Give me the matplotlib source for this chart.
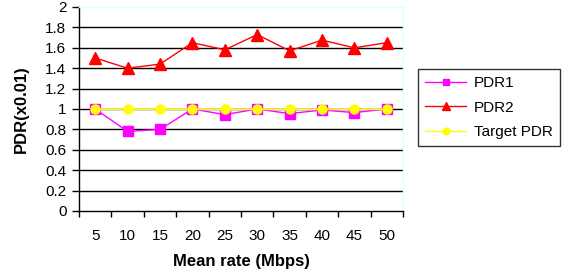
import numpy as np
import matplotlib.pyplot as plt

plt.rcParams['font.family'] = ['Liberation Sans', 'DejaVu Sans']

# data
rates = ['5', '10', '15', '20', '25', '30', '35', '40', '45', '50']
pdr1 = [1.0, 0.78, 0.80, 1.0, 0.945, 1.0, 0.955, 0.99, 0.965, 1.0]
pdr2 = [1.50, 1.40, 1.44, 1.65, 1.58, 1.73, 1.57, 1.675, 1.60, 1.65]
target = [1.0] * 10

fig = plt.figure(figsize=(5.69, 2.76), dpi=100)
ax = fig.add_axes([79 / 569, 1 - 211 / 276, 324 / 569, 204 / 276])

x = np.arange(len(rates))
ax.plot(x, pdr1, color='#FF00FF', marker='s', ms=6.5, lw=1, label='PDR1', zorder=3)
ax.plot(x, target, color='#FFFF00', marker='o', ms=6.5, lw=1, label='Target PDR', zorder=4)
ax.plot(x, pdr2, color='#FF0000', marker='^', ms=8, lw=1, label='PDR2', zorder=5)

ax.set_xlim(-0.5, 9.5)
ax.set_ylim(0, 2)
ax.set_yticks(np.arange(0, 2.01, 0.2))
ax.set_yticklabels(['0', '0.2', '0.4', '0.6', '0.8', '1', '1.2', '1.4', '1.6', '1.8', '2'])
for v in np.arange(0.2, 1.81, 0.2):
    ax.axhline(v, color='black', lw=1, zorder=1)

ax.set_xticks(x)
ax.set_xticklabels(rates)
ax.set_xticks(np.arange(-0.5, 10, 1), minor=True)
ax.tick_params(axis='x', which='major', length=0, pad=13, labelsize=11)
ax.tick_params(axis='x', which='minor', length=4, width=1, direction='out')
ax.tick_params(axis='y', length=5, width=1, pad=4, labelsize=11)

for s in ['left', 'bottom']:
    ax.spines[s].set_color('black')
    ax.spines[s].set_linewidth(1)
for s in ['top', 'right']:
    ax.spines[s].set_color('#DDFFFF')
    ax.spines[s].set_linewidth(1)

ax.set_xlabel('Mean rate (Mbps)', fontsize=12, fontweight='bold', labelpad=8)
ax.set_ylabel('PDR(x0.01)', fontsize=12, fontweight='bold', labelpad=12)

h, l = ax.get_legend_handles_labels()
order = [0, 2, 1]
leg = fig.legend([h[i] for i in order], [l[i] for i in order],
                 loc='upper left', bbox_to_anchor=(418 / 569, 1 - 69 / 276),
                 borderaxespad=0, fontsize=11, frameon=True, fancybox=False,
                 edgecolor='black', borderpad=0.45, labelspacing=0.7,
                 handlelength=2.7, handletextpad=0.5, markerscale=0.75)
leg.get_frame().set_linewidth(1)

plt.savefig('out.png', dpi=100)
